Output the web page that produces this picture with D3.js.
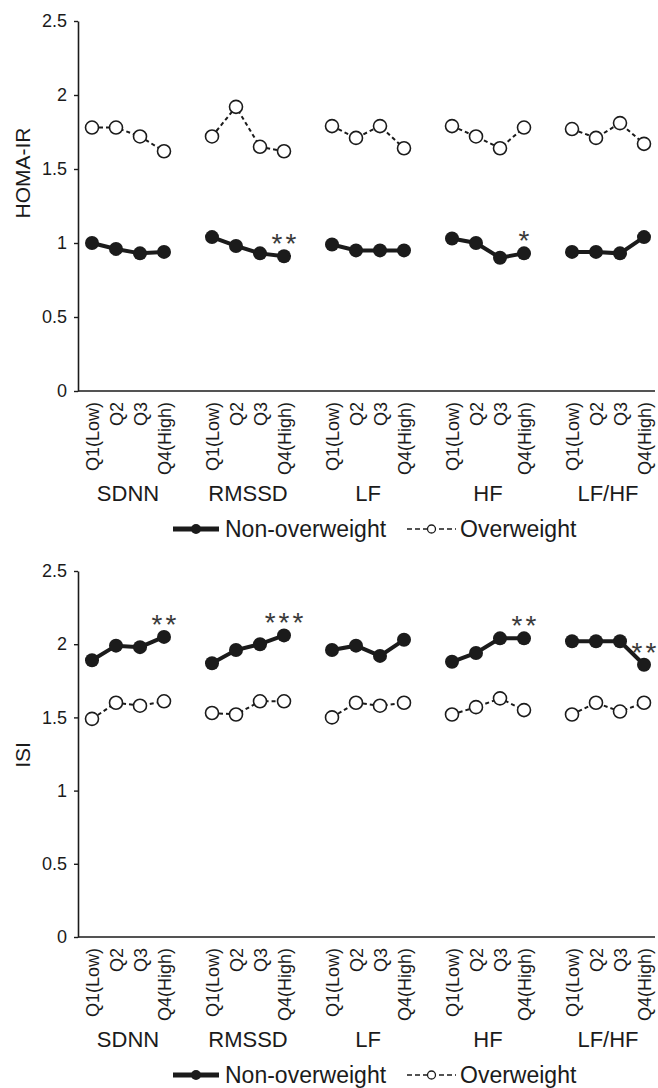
<!DOCTYPE html>
<html>
<head>
<meta charset="utf-8">
<script src="https://cdn.jsdelivr.net/npm/d3@7"></script>
<style>
  body { margin: 0; background: #fff; }
  svg { display: block; font-family: "Liberation Sans", Arial, sans-serif; }
</style>
</head>
<body>
<div id="chart"></div>
<script>
// Chart data
const groups = ['SDNN', 'RMSSD', 'LF', 'HF', 'LF/HF'];
const quartiles = ['Q1(Low)', 'Q2', 'Q3', 'Q4(High)'];
const yTicks = [0, 0.5, 1, 1.5, 2, 2.5];

// HOMA-IR, one row per HRV index (Q1..Q4)
const homaNonOverweight = [
    [1.00, 0.96, 0.93, 0.94],
    [1.04, 0.98, 0.93, 0.91],
    [0.99, 0.95, 0.95, 0.95],
    [1.03, 1.00, 0.90, 0.93],
    [0.94, 0.94, 0.93, 1.04]
];
const homaOverweight = [
    [1.78, 1.78, 1.72, 1.62],
    [1.72, 1.92, 1.65, 1.62],
    [1.79, 1.71, 1.79, 1.64],
    [1.79, 1.72, 1.64, 1.78],
    [1.77, 1.71, 1.81, 1.67]
];
const homaStars = [
    { group: 'RMSSD', q: 'Q4(High)', text: '**' },
    { group: 'HF', q: 'Q4(High)', text: '*' }
];

// ISI
const isiNonOverweight = [
    [1.89, 1.99, 1.98, 2.05],
    [1.87, 1.96, 2.00, 2.06],
    [1.96, 1.99, 1.92, 2.03],
    [1.88, 1.94, 2.04, 2.04],
    [2.02, 2.02, 2.02, 1.86]
];
const isiOverweight = [
    [1.49, 1.60, 1.58, 1.61],
    [1.53, 1.52, 1.61, 1.61],
    [1.50, 1.60, 1.58, 1.60],
    [1.52, 1.57, 1.63, 1.55],
    [1.52, 1.60, 1.54, 1.60]
];
const isiStars = [
    { group: 'SDNN', q: 'Q4(High)', text: '**' },
    { group: 'RMSSD', q: 'Q4(High)', text: '***' },
    { group: 'HF', q: 'Q4(High)', text: '**' },
    { group: 'LF/HF', q: 'Q4(High)', text: '**' }
];

const legendLabels = ['Non-overweight', 'Overweight'];

// Layout
const width = 658;
const height = 1088;
const axisX = 78;
const axisRight = 655;
const ink = '#1b1b1b';

const panels = [
    { title: 'HOMA-IR', top: 21, bottom: 391, titleY: 173, non: homaNonOverweight, over: homaOverweight, stars: homaStars },
    { title: 'ISI', top: 571, bottom: 937, titleY: 755, non: isiNonOverweight, over: isiOverweight, stars: isiStars }
];

const svg = d3.select('#chart')
    .append('svg')
    .attr('width', width)
    .attr('height', height);

svg.append('rect').attr('width', width).attr('height', height).attr('fill', '#fff');

// x scales: one band per HRV index, points for the quartiles inside
const groupScale = d3.scaleBand().domain(groups).range([68, 668]);
const quartScale = d3.scalePoint().domain(quartiles).range([0, groupScale.bandwidth()]).padding(1);
const xPos = (g, q) => groupScale(g) + quartScale(q);

panels.forEach(p => {
    const y = d3.scaleLinear().domain([0, 2.5]).range([p.bottom, p.top]);
    const panel = svg.append('g');

    // y axis
    const yAxis = panel.append('g')
        .attr('transform', `translate(${axisX},0)`)
        .call(d3.axisLeft(y).tickValues(yTicks).tickFormat(d => String(d)).tickSize(4).tickSizeOuter(0).tickPadding(7));
    yAxis.select('.domain').attr('stroke', ink).attr('stroke-width', 1.6);
    yAxis.selectAll('.tick line').attr('stroke', ink).attr('stroke-width', 1.4);
    yAxis.selectAll('.tick text').attr('fill', ink).style('font-size', '18px');

    // x baseline
    panel.append('line')
        .attr('x1', axisX).attr('x2', axisRight)
        .attr('y1', p.bottom).attr('y2', p.bottom)
        .attr('stroke', ink).attr('stroke-width', 1.6);

    // quartile labels, one small axis per group
    groups.forEach(g => {
        const ax = panel.append('g')
            .attr('transform', `translate(${groupScale(g)},${p.bottom})`)
            .call(d3.axisBottom(quartScale).tickSize(0));
        ax.select('.domain').remove();
        ax.selectAll('text')
            .attr('transform', 'rotate(-90)')
            .attr('text-anchor', 'end')
            .attr('x', -11)
            .attr('y', 0)
            .attr('dy', '0.36em')
            .attr('fill', ink)
            .style('font-size', '18px');

        panel.append('text')
            .attr('x', groupScale(g) + groupScale.bandwidth() / 2)
            .attr('y', p.bottom + 110)
            .attr('text-anchor', 'middle')
            .attr('fill', ink)
            .style('font-size', '22px')
            .text(g);
    });

    // y title
    panel.append('text')
        .attr('transform', `translate(30,${p.titleY}) rotate(-90)`)
        .attr('text-anchor', 'middle')
        .attr('fill', ink)
        .style('font-size', '21px')
        .text(p.title);

    // series
    groups.forEach((g, gi) => {
        const line = d3.line()
            .x((d, i) => xPos(g, quartiles[i]))
            .y(d => y(d));

        // overweight: dashed line, open circles
        panel.append('path')
            .datum(p.over[gi])
            .attr('d', line)
            .attr('fill', 'none')
            .attr('stroke', ink)
            .attr('stroke-width', 2)
            .attr('stroke-dasharray', '4,3');
        panel.selectAll(null)
            .data(p.over[gi])
            .enter()
            .append('circle')
            .attr('cx', (d, i) => xPos(g, quartiles[i]))
            .attr('cy', d => y(d))
            .attr('r', 6.5)
            .attr('fill', '#fff')
            .attr('stroke', ink)
            .attr('stroke-width', 1.6);

        // non-overweight: solid thick line, filled circles
        panel.append('path')
            .datum(p.non[gi])
            .attr('d', line)
            .attr('fill', 'none')
            .attr('stroke', ink)
            .attr('stroke-width', 4);
        panel.selectAll(null)
            .data(p.non[gi])
            .enter()
            .append('circle')
            .attr('cx', (d, i) => xPos(g, quartiles[i]))
            .attr('cy', d => y(d))
            .attr('r', 7)
            .attr('fill', ink);
    });

    // significance marks above the non-overweight point
    p.stars.forEach(s => {
        const gi = groups.indexOf(s.group);
        const qi = quartiles.indexOf(s.q);
        panel.append('text')
            .attr('x', xPos(s.group, s.q))
            .attr('y', y(p.non[gi][qi]) - 3)
            .attr('dx', 1.5)
            .attr('text-anchor', 'middle')
            .attr('fill', '#3a3a3a')
            .style('font-size', '28px')
            .style('letter-spacing', '3px')
            .text(s.text);
    });

    // legend
    const ly = p.bottom + 138;
    const leg = panel.append('g');
    leg.append('line')
        .attr('x1', 173).attr('x2', 219).attr('y1', ly).attr('y2', ly)
        .attr('stroke', ink).attr('stroke-width', 5);
    leg.append('circle').attr('cx', 196).attr('cy', ly).attr('r', 5).attr('fill', ink);
    leg.append('text')
        .attr('x', 225).attr('y', ly + 8)
        .attr('fill', ink)
        .style('font-size', '23px')
        .text(legendLabels[0]);

    leg.append('line')
        .attr('x1', 407).attr('x2', 456).attr('y1', ly).attr('y2', ly)
        .attr('stroke', ink).attr('stroke-width', 1.5)
        .attr('stroke-dasharray', '5,3');
    leg.append('circle').attr('cx', 431.5).attr('cy', ly).attr('r', 4)
        .attr('fill', '#fff').attr('stroke', ink).attr('stroke-width', 1.3);
    leg.append('text')
        .attr('x', 460).attr('y', ly + 8)
        .attr('fill', ink)
        .style('font-size', '23px')
        .text(legendLabels[1]);
});
</script>
</body>
</html>
